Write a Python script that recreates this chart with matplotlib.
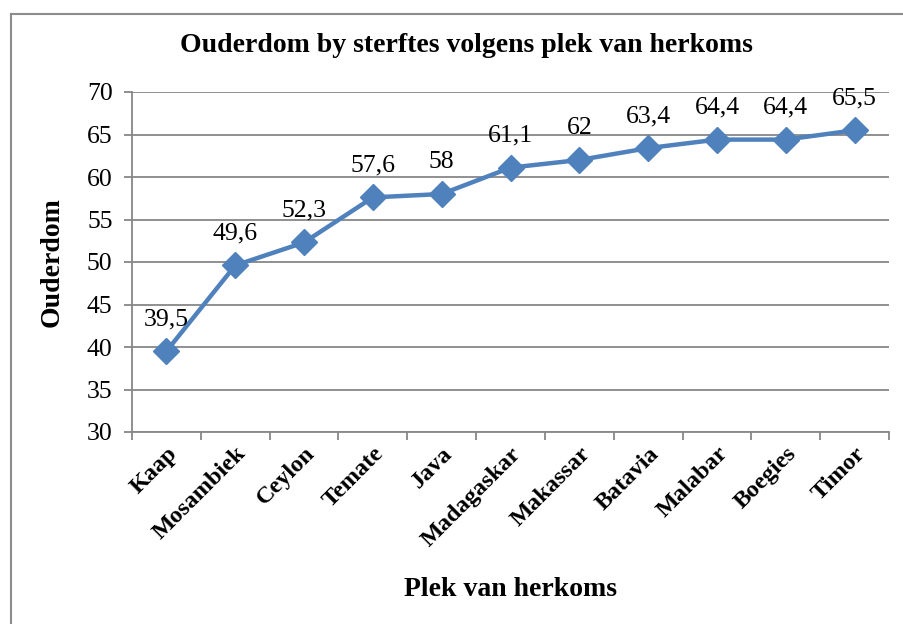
import matplotlib
matplotlib.use("Agg")
import matplotlib.pyplot as plt
from matplotlib.lines import Line2D

categories = ["Kaap", "Mosambiek", "Ceylon", "Temate", "Java", "Madagaskar",
              "Makassar", "Batavia", "Malabar", "Boegies", "Timor"]
values = [39.5, 49.6, 52.3, 57.6, 58.0, 61.1, 62.0, 63.4, 64.4, 64.4, 65.5]
yticks = [30, 35, 40, 45, 50, 55, 60, 65, 70]

plt.rcParams['font.family'] = ['Liberation Serif', 'DejaVu Serif']

W, H = 904, 624
fig = plt.figure(figsize=(W / 100, H / 100), dpi=100)
ax = fig.add_axes([132 / W, 1 - 432 / H, (889 - 132) / W, (432 - 92) / H])

grid_c = '#878787'
x = list(range(len(categories)))
ax.plot(x, values, color='#4F81BD', lw=3.2, marker='D', ms=13,
        markerfacecolor='#4F81BD', markeredgecolor='#4F81BD', zorder=3)

for xi, v in zip(x, values):
    lab = ('%g' % v).replace('.', ',')
    ax.annotate(lab, (xi, v), xytext=(0, 15), textcoords='offset points',
                ha='center', va='bottom', fontsize=18.5, color='black')

ax.set_xlim(-0.5, len(categories) - 0.5)
ax.set_ylim(30, 70)
ax.set_yticks(yticks)
ax.set_yticklabels([str(t) for t in yticks], fontsize=18.5)
ax.yaxis.grid(True, color=grid_c, lw=1.3)
ax.set_axisbelow(True)

ax.set_xticks([i - 0.5 for i in range(len(categories) + 1)], minor=False)
ax.set_xticklabels([])
ax.set_xticks(x, minor=True)
ax.set_xticklabels(categories, minor=True, rotation=45, ha='right',
                   rotation_mode='anchor', fontsize=17.5, fontweight='bold')
ax.tick_params(axis='x', which='minor', length=0, pad=8)
ax.tick_params(axis='x', which='major', length=6, color=grid_c, width=1.3)
ax.tick_params(axis='y', length=6, color=grid_c, width=1.3, pad=8)

for s in ['top', 'right']:
    ax.spines[s].set_visible(False)
for s in ['left', 'bottom']:
    ax.spines[s].set_color(grid_c)
    ax.spines[s].set_linewidth(1.3)

fig.text(466 / W, 1 - 45 / H, 'Ouderdom by sterftes volgens plek van herkoms',
         ha='center', va='center', fontsize=20, fontweight='bold')
fig.text(510 / W, 1 - 590 / H, 'Plek van herkoms', ha='center', va='center',
         fontsize=20, fontweight='bold')
fig.text(52 / W, 1 - 262 / H, 'Ouderdom', ha='center', va='center',
         rotation=90, fontsize=20, fontweight='bold')

# chart frame (only left and top edges visible)
fig.add_artist(Line2D([11 / W, 11 / W], [0, 1 - 14 / H], transform=fig.transFigure,
                      color='#8c8c8c', lw=1.5))
fig.add_artist(Line2D([11 / W, 1], [1 - 14 / H, 1 - 14 / H], transform=fig.transFigure,
                      color='#8c8c8c', lw=1.5))

fig.savefig('out.png', dpi=100, facecolor='white')
